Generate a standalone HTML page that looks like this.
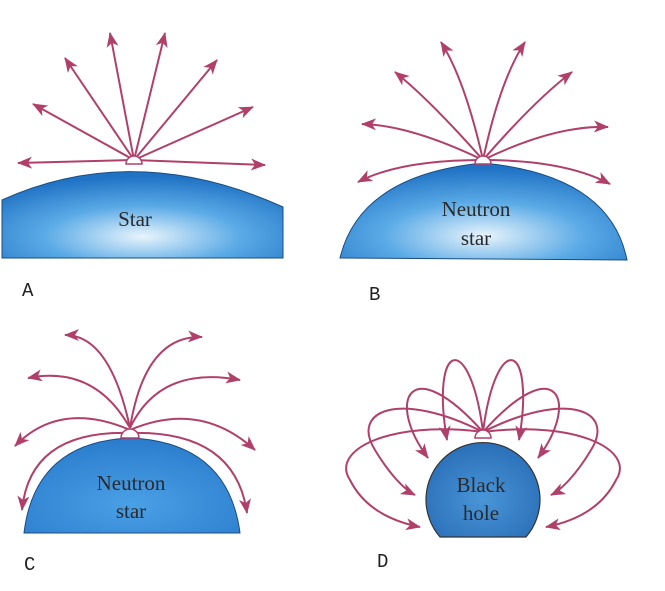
<!DOCTYPE html>
<html><head><style>body{margin:0;background:#fff}svg{display:block}</style></head><body>
<svg width="665" height="591" viewBox="0 0 665 591" xmlns="http://www.w3.org/2000/svg">
<defs>
<marker id="a" markerWidth="16" markerHeight="12" refX="14" refY="6" orient="auto" markerUnits="userSpaceOnUse"><path d="M0,0 L15,6 L0,12 L4,6 Z" fill="#b0406a"/></marker>
<radialGradient id="g" cx="0.5" cy="0.75" r="0.7"><stop offset="0" stop-color="#e8f4fc"/><stop offset="0.5" stop-color="#5aaae6"/><stop offset="1" stop-color="#1f72c4"/></radialGradient>
<radialGradient id="g3" cx="0.5" cy="0.7" r="0.7"><stop offset="0" stop-color="#4aa0e6"/><stop offset="1" stop-color="#2a7ccc"/></radialGradient>
<radialGradient id="g2" cx="0.5" cy="0.6" r="0.6"><stop offset="0" stop-color="#4a95d8"/><stop offset="1" stop-color="#2a6fb8"/></radialGradient>
</defs>
<g fill="none" stroke="#b0406a" stroke-width="2" marker-end="url(#a)">
<!-- A -->
<path d="M134,160 L18,163"/><path d="M134,160 L33,104"/><path d="M134,160 L65,58"/><path d="M134,160 L110,33"/>
<path d="M134,160 L165,33"/><path d="M134,160 L217,60"/><path d="M134,160 L253,107"/><path d="M134,160 L265,165"/>
<!-- B -->
<path d="M483,160 Q400,160 358,182"/><path d="M483,160 Q410,125 362,124"/><path d="M483,160 Q430,100 395,72"/><path d="M483,160 Q465,80 441,42"/>
<path d="M483,160 Q500,80 525,42"/><path d="M483,160 Q535,100 572,72"/><path d="M483,160 Q555,125 608,127"/><path d="M483,160 Q565,160 610,184"/>
<!-- C -->
<path d="M130,428 Q110,335 65,335"/><path d="M130,428 Q145,335 202,337"/>
<path d="M130,428 Q95,365 28,378"/><path d="M130,428 Q160,365 240,380"/>
<path d="M130,430 Q60,400 15,446"/><path d="M130,430 Q200,400 255,450"/>
<path d="M130,433 Q30,430 22,510"/><path d="M130,433 Q235,430 247,513"/>
<!-- D -->
<path d="M483,432 C470,330 430,340 447,440"/><path d="M483,432 C496,330 536,340 519,440"/>
<path d="M483,432 C410,350 385,400 428,458"/><path d="M483,432 C556,350 581,400 538,458"/>
<path d="M483,432 C400,390 350,410 375,450 C390,475 405,490 415,495"/><path d="M483,432 C566,390 616,410 591,450 C576,475 561,490 551,495"/>
<path d="M483,432 C390,420 330,450 350,480 C365,510 395,522 420,527"/><path d="M483,432 C576,420 636,450 616,480 C601,510 571,522 546,527"/>
</g>
<!-- bodies -->
<path d="M2,200 Q135,140 283,207 L283,258 L2,258 Z" fill="url(#g)" stroke="#1a4d80" stroke-width="1"/>
<path d="M340,258 Q360,175 483,163 Q610,175 627,260 Z" fill="url(#g)" stroke="#1a4d80" stroke-width="1"/>
<path d="M24,533 Q35,442 130,438 Q228,442 240,533 Z" fill="url(#g3)" stroke="#1a4d80" stroke-width="1"/>
<path d="M440,537 A57,57 0 1 1 526,537 Z" fill="url(#g2)" stroke="#333" stroke-width="1.2"/>
<g fill="#fff" stroke="#b0406a" stroke-width="1.5">
<path d="M126,164 A8,8 0 0 1 142,164 Z"/><path d="M475,164 A8,8 0 0 1 491,164 Z"/>
<path d="M121,438 A9,9 0 0 1 139,438 Z"/><path d="M475,438 A8,8 0 0 1 491,438 Z"/>
</g>
<g font-family="Liberation Serif, serif" font-size="21" fill="#2a2a2a" text-anchor="middle">
<text x="135" y="226">Star</text>
<text x="476" y="216">Neutron</text><text x="476" y="245">star</text>
<text x="131" y="490">Neutron</text><text x="131" y="518">star</text>
<text x="481" y="492">Black</text><text x="481" y="520">hole</text>
</g>
<g font-family="Liberation Mono, monospace" font-size="19" fill="#222">
<text x="22" y="296">A</text><text x="369" y="300">B</text><text x="24" y="570">C</text><text x="377" y="567">D</text>
</g>
</svg>
</body></html>
